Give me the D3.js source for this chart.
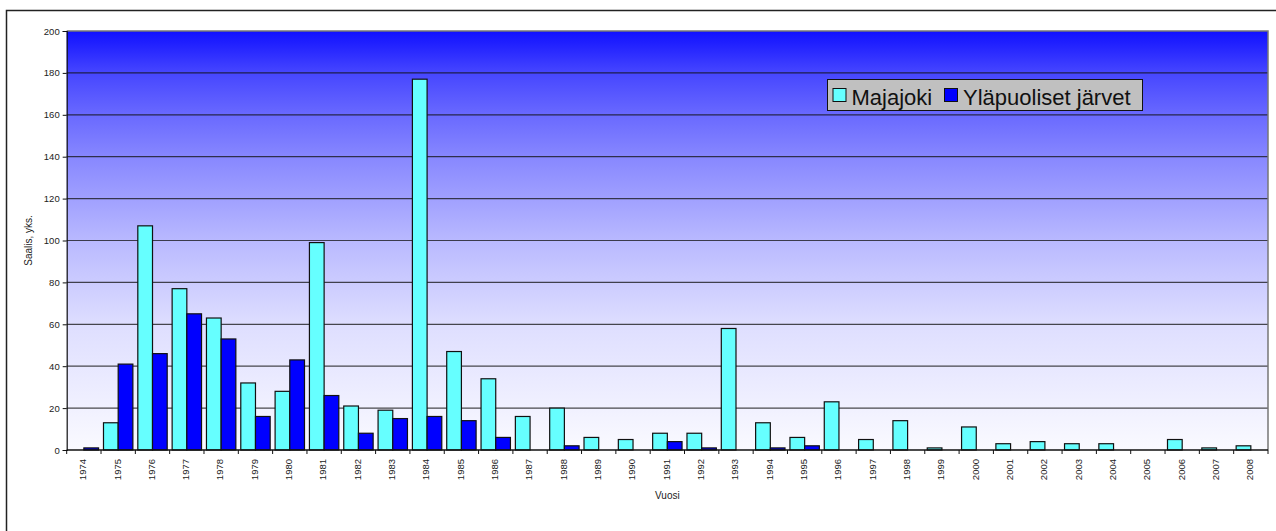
<!DOCTYPE html>
<html>
<head>
<meta charset="utf-8">
<script src="https://cdn.jsdelivr.net/npm/d3@7"></script>
<style>
  html, body { margin: 0; padding: 0; background: #fff; }
  svg { display: block; font-family: Arial, "Liberation Sans", sans-serif; }
</style>
</head>
<body>
<svg id="chart" width="1276" height="531"></svg>
<script>
// Catch per year, 1974–2008
const years = ["1974","1975","1976","1977","1978","1979","1980","1981","1982","1983",
  "1984","1985","1986","1987","1988","1989","1990","1991","1992","1993",
  "1994","1995","1996","1997","1998","1999","2000","2001","2002","2003",
  "2004","2005","2006","2007","2008"];
const majajoki = [0,13,107,77,63,32,28,99,21,19,
  177,47,34,16,20,6,5,8,8,58,
  13,6,23,5,14,1,11,3,4,3,
  3,0,5,1,2];
const ylapuoliset = [1,41,46,65,53,16,43,26,8,15,
  16,14,6,0,2,0,0,4,1,0,
  1,2,0,0,0,0,0,0,0,0,
  0,0,0,0,0];
const seriesNames = ["Majajoki", "Yläpuoliset järvet"];
const seriesColors = ["#66FFFF", "#0000FF"];
const yTicks = [0,20,40,60,80,100,120,140,160,180,200];

const svg = d3.select("#chart");
const plot = { left: 66.7, right: 1268, top: 31, bottom: 450 };

// Chart frame
svg.append("rect")
  .attr("x", 6.5).attr("y", 10.5)
  .attr("width", 1400).attr("height", 700)
  .attr("fill", "#fff").attr("stroke", "#222").attr("stroke-width", 1.5);

// Plot background gradient
const defs = svg.append("defs");
const grad = defs.append("linearGradient").attr("id", "bg")
  .attr("x1", 0).attr("y1", 0).attr("x2", 0).attr("y2", 1);
[[0, "rgb(16,16,255)"], [0.1, "rgb(70,70,255)"], [0.2, "rgb(105,105,255)"],
 [0.3, "rgb(135,135,255)"], [0.5, "rgb(185,185,255)"], [0.7, "rgb(222,222,255)"],
 [1, "rgb(250,250,255)"]].forEach(([o, c]) =>
  grad.append("stop").attr("offset", o).attr("stop-color", c));

svg.append("rect")
  .attr("x", plot.left).attr("y", plot.top)
  .attr("width", plot.right - plot.left).attr("height", plot.bottom - plot.top)
  .attr("fill", "url(#bg)");

const x0 = d3.scaleBand().domain(years).range([plot.left, plot.right]).padding(0);
const x1 = d3.scaleBand().domain(seriesNames).range([0, x0.bandwidth()])
  .paddingInner(0).paddingOuter(0.168);
const y = d3.scaleLinear().domain([0, 200]).range([plot.bottom, plot.top]);

// Gridlines
svg.append("g").selectAll("line")
  .data(yTicks.filter(t => t > 0 && t < 200))
  .join("line")
  .attr("x1", plot.left).attr("x2", plot.right)
  .attr("y1", d => y(d)).attr("y2", d => y(d))
  .attr("stroke", "#111").attr("stroke-opacity", 0.75).attr("stroke-width", 1.2);

// Plot area border (top and right)
svg.append("path")
  .attr("d", `M${plot.left},${plot.top}H${plot.right}V${plot.bottom}`)
  .attr("fill", "none").attr("stroke", "#777").attr("stroke-width", 1.5);

// Bars
const data = years.map((yr, i) => ({ year: yr, values: [majajoki[i], ylapuoliset[i]] }));
const groups = svg.append("g").selectAll("g")
  .data(data).join("g")
  .attr("transform", d => `translate(${x0(d.year)},0)`);
groups.selectAll("rect")
  .data(d => d.values.map((v, k) => ({ v, k })).filter(e => e.v > 0))
  .join("rect")
  .attr("x", e => x1(seriesNames[e.k]))
  .attr("width", x1.bandwidth())
  .attr("y", e => y(e.v))
  .attr("height", e => y(0) - y(e.v))
  .attr("fill", e => seriesColors[e.k])
  .attr("stroke", "#111").attr("stroke-width", 1.2);

// Y axis
const yAxis = d3.axisLeft(y).tickValues(yTicks).tickSize(4).tickPadding(3);
const gy = svg.append("g").attr("transform", `translate(${plot.left},0)`).call(yAxis);
gy.select(".domain").attr("stroke", "#111").attr("stroke-width", 1.2);
gy.selectAll(".tick line").attr("stroke", "#111");
gy.selectAll(".tick text").attr("fill", "#222").style("font-size", "9.5px")
  .style("font-family", "Arial, 'Liberation Sans', sans-serif");

// X axis: ticks at category boundaries
const gx = svg.append("g").attr("transform", `translate(0,${plot.bottom})`);
gx.append("line").attr("x1", plot.left).attr("x2", plot.right)
  .attr("stroke", "#111").attr("stroke-width", 1.5);
gx.selectAll("line.tk")
  .data(years.concat(["end"]))
  .join("line").attr("class", "tk")
  .attr("x1", (d, i) => plot.left + i * x0.step())
  .attr("x2", (d, i) => plot.left + i * x0.step())
  .attr("y1", 0).attr("y2", 4)
  .attr("stroke", "#111");
gx.selectAll("text")
  .data(years).join("text")
  .attr("transform", d => `translate(${x0(d) + x0.bandwidth() / 2 - 1},9) rotate(-90)`)
  .attr("text-anchor", "end")
  .attr("dy", "0.35em")
  .attr("fill", "#222")
  .style("font-size", "9.5px")
  .text(d => d);

// Axis titles
svg.append("text")
  .attr("transform", `translate(32,${(plot.top + plot.bottom) / 2}) rotate(-90)`)
  .attr("text-anchor", "middle").attr("fill", "#222")
  .style("font-size", "10px").text("Saalis, yks.");
svg.append("text")
  .attr("x", (plot.left + plot.right) / 2).attr("y", 499)
  .attr("text-anchor", "middle").attr("fill", "#222")
  .style("font-size", "10px").text("Vuosi");

// Legend
const lg = svg.append("g");
lg.append("rect")
  .attr("x", 827.5).attr("y", 79.5).attr("width", 315).attr("height", 31)
  .attr("fill", "#C0C0C0").attr("stroke", "#111").attr("stroke-width", 1);
const legendItems = [{ x: 833, tx: 851.5 }, { x: 944.5, tx: 963 }];
legendItems.forEach((it, k) => {
  lg.append("rect")
    .attr("x", it.x).attr("y", 88.5).attr("width", 13).attr("height", 13)
    .attr("fill", seriesColors[k]).attr("stroke", "#111").attr("stroke-width", 1);
  lg.append("text")
    .attr("x", it.tx).attr("y", 105)
    .attr("fill", "#111").style("font-size", "22px")
    .text(seriesNames[k]);
});
</script>
</body>
</html>
